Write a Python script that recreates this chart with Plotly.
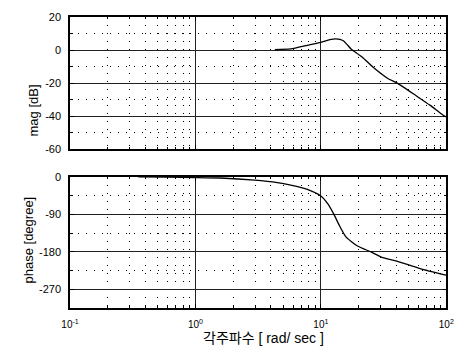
import plotly.graph_objects as go

# ---- data ----
mag_w = [4.3, 5.75, 7.8, 10.0, 11.8, 13.2, 15.0, 16.2, 17.4, 21.2, 26.4, 34.4, 40.3, 58.2, 74.5, 95, 100]
mag_db = [0.4, 0.8, 3.0, 4.8, 6.4, 6.9, 5.9, 3.4, 0.8, -4.0, -10.7, -17.3, -19.8, -27.9, -33.5, -39.6, -40.5]

phase_w = [0.35, 0.6, 1.0, 1.58, 2.96, 4.5, 5.75, 7.8, 10.0, 11.3, 12.8, 14.0, 15.85, 19.6, 25.1, 30.6, 40.3, 61.9, 100]
phase_deg = [-0.5, -1, -1.8, -3, -8, -14, -20, -30, -46, -64, -92, -116, -144, -166, -180, -193, -202, -220, -236]

x_ticks = [0.1, 1, 10, 100]
x_ticktext = ["10<sup>-1</sup>", "10<sup>0</sup>", "10<sup>1</sup>", "10<sup>2</sup>"]
mag_ticks = [20, 0, -20, -40, -60]
mag_ticktext = ["20", "0", "-20", "-40", "-60"]
phase_ticks = [0, -90, -180, -270]
phase_ticktext = ["0", "-90", "-180", "-270"]

title_x = "각주파수 [ rad/ sec ]"
title_mag = "mag [dB]"
title_phase = "phase [degree]"

FONT = "Liberation Sans, Arial, Noto Sans CJK KR"
minor_x = [m * d for d in [0.1, 1, 10] for m in range(2, 10)]

fig = go.Figure()
fig.add_trace(go.Scatter(x=mag_w, y=mag_db, mode="lines", xaxis="x", yaxis="y",
                         line=dict(color="black", width=1.3, shape="spline", smoothing=0.6),
                         showlegend=False, hoverinfo="skip"))
fig.add_trace(go.Scatter(x=phase_w, y=phase_deg, mode="lines", xaxis="x2", yaxis="y2",
                         line=dict(color="black", width=1.3, shape="spline", smoothing=0.6),
                         showlegend=False, hoverinfo="skip"))

def xaxis_common(show_labels):
    return dict(
        type="log", range=[-1, 2], domain=[0.1525, 0.9723], automargin=False,
        tickmode="array", tickvals=x_ticks, ticktext=x_ticktext if show_labels else None,
        showticklabels=show_labels,
        ticks="inside", ticklen=4, tickcolor="black",
        showline=True, linecolor="black", linewidth=1.5, mirror="allticks",
        showgrid=True, gridcolor="#222", gridwidth=1.2,
        zeroline=False,
        minor=dict(tickmode="array", tickvals=minor_x, ticks="inside", ticklen=2,
                   tickcolor="black", showgrid=True, gridcolor="black",
                   griddash="1px,7px", gridwidth=1),
        tickfont=dict(family=FONT, size=10, color="black"),
        ticklabelstandoff=6,
    )

def yaxis_common(rng, vals, texts, domain, minor_dtick):
    return dict(
        range=rng, domain=domain, automargin=False,
        tickmode="array", tickvals=vals, ticktext=texts,
        ticks="inside", ticklen=4, tickcolor="black",
        showline=True, linecolor="black", linewidth=1.5, mirror="allticks",
        showgrid=True, gridcolor="#222", gridwidth=1.2,
        zeroline=False,
        minor=dict(dtick=minor_dtick, ticks="inside", ticklen=3, tickcolor="black",
                   showgrid=True, gridcolor="black", griddash="1px,7px", gridwidth=1),
        tickfont=dict(family=FONT, size=11, color="black"),
        ticklabelstandoff=5,
    )

fig.update_layout(
    width=459, height=360,
    margin=dict(l=0, r=0, t=0, b=0),
    paper_bgcolor="white", plot_bgcolor="white",
    xaxis=dict(xaxis_common(False), anchor="y"),
    yaxis=yaxis_common([-60, 20], mag_ticks, mag_ticktext, [0.586, 0.952], 10),
    xaxis2=dict(xaxis_common(True), anchor="y2"),
    yaxis2=yaxis_common([-315, 0], phase_ticks, phase_ticktext, [0.144, 0.509], 45),
    annotations=[
        dict(text=title_mag, x=23 / 459, y=1 - 83 / 360, xref="paper", yref="paper", showarrow=False,
             textangle=-90, font=dict(family=FONT, size=13, color="black")),
        dict(text=title_phase, x=18 / 459, y=1 - 240 / 360, xref="paper", yref="paper", showarrow=False,
             textangle=-90, font=dict(family=FONT, size=13, color="black")),
        dict(text=title_x, x=0.575, y=1 - 348 / 360, xref="paper", yref="paper", showarrow=False,
             font=dict(family=FONT, size=14, color="black")),
    ],
)

fig.write_html("out.html", config={"displayModeBar": False},
               post_script="document.body.style.margin='0';document.body.style.overflow='hidden';")
